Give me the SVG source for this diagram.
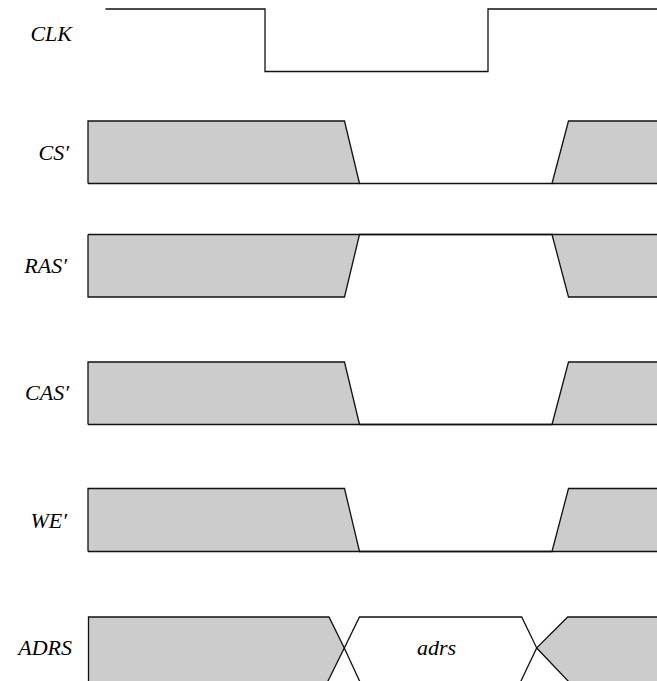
<svg xmlns="http://www.w3.org/2000/svg" width="657" height="681" viewBox="0 0 657 681">
<style>
text{font-family:'Liberation Serif','DejaVu Serif',serif;font-style:italic;font-size:22px;fill:#000;}
.sh{fill:#cccccc;stroke:none;}
.ln{fill:none;stroke:#111;stroke-width:1.3;stroke-linejoin:miter;}
</style>
<rect width="657" height="681" fill="#fff"/>
<g id="clk">
<text x="72" y="41" text-anchor="end" font-family="Liberation Serif">CLK</text>
<polyline class="ln" points="105.5,9 265,9 265,71.5 488,71.5 488,9 658,9"/>
</g>
<g id="cs">
<text x="69" y="160" text-anchor="end" font-family="Liberation Serif">CS′</text>
<polygon class="sh" points="88,121 344.5,121 359.5,183.5 88,183.5"/>
<polygon class="sh" points="568.5,121 658,121 658,183.5 552,183.5"/>
<polyline class="ln" points="88,183.5 88,121 344.5,121 359.5,183.5 552,183.5 568.5,121 658,121"/>
<line class="ln" x1="88" y1="183.5" x2="359.5" y2="183.5"/>
<line class="ln" x1="552" y1="183.5" x2="658" y2="183.5"/>
</g>
<g id="ras">
<text x="67" y="272.5" text-anchor="end" font-family="Liberation Serif">RAS′</text>
<polygon class="sh" points="88,234.5 359.5,234.5 344.5,297 88,297"/>
<polygon class="sh" points="552,234.5 658,234.5 658,297 568.5,297"/>
<polyline class="ln" points="88,234.5 88,297 344.5,297 359.5,234.5 552,234.5 568.5,297 658,297"/>
<line class="ln" x1="88" y1="234.5" x2="658" y2="234.5"/>
</g>
<g id="cas">
<text x="69" y="400" text-anchor="end" font-family="Liberation Serif">CAS′</text>
<polygon class="sh" points="88,362 344.5,362 359.5,424.5 88,424.5"/>
<polygon class="sh" points="568.5,362 658,362 658,424.5 552,424.5"/>
<polyline class="ln" points="88,424.5 88,362 344.5,362 359.5,424.5 552,424.5 568.5,362 658,362"/>
<line class="ln" x1="88" y1="424.5" x2="658" y2="424.5"/>
</g>
<g id="we">
<text x="67" y="527.5" text-anchor="end" font-family="Liberation Serif">WE′</text>
<polygon class="sh" points="88,488.5 344.5,488.5 359.5,551.5 88,551.5"/>
<polygon class="sh" points="568.5,488.5 658,488.5 658,551.5 552,551.5"/>
<polyline class="ln" points="88,551.5 88,488.5 344.5,488.5 359.5,551.5 552,551.5 568.5,488.5 658,488.5"/>
<line class="ln" x1="88" y1="551.5" x2="658" y2="551.5"/>
</g>
<g id="adrs">
<text x="72" y="655" text-anchor="end" font-family="Liberation Serif">ADRS</text>
<polygon class="sh" points="88.5,617 329,617 344.3,648 328,681 88.5,681"/>
<polygon class="sh" points="567.7,617 658,617 658,681 568.3,681 536.7,648"/>
<polyline class="ln" points="88.5,682 88.5,617 329,617 344.3,648 359.5,617 521.7,617 536.7,648 567.7,617 658,617"/>
<polyline class="ln" points="327.5,682 344.3,648 360,682"/>
<polyline class="ln" points="520.5,682 536.7,648 569,682"/>
<text x="436.5" y="655" text-anchor="middle" font-family="Liberation Serif">adrs</text>
</g>
</svg>
